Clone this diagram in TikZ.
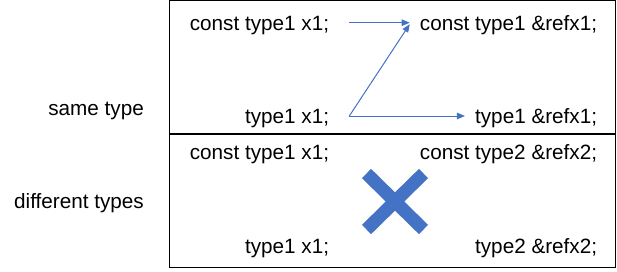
\documentclass[tikz,border=0pt]{standalone}
\usepackage{fontspec}
\setmainfont{Liberation Sans}
\usetikzlibrary{arrows.meta,calc}
\definecolor{arrowblue}{HTML}{4472C4}

\begin{document}
\begin{tikzpicture}[x=1pt,y=-1pt,
  lbl/.style={anchor=base east, inner sep=0pt, font=\fontsize{20.7}{24}\selectfont},
  frame/.style={draw=black, line width=1.3pt},
  link/.style={draw=arrowblue, line width=1pt, -{Triangle[length=8pt,width=6.5pt]}},
  cross/.style={draw=arrowblue, line width=13pt, line cap=butt},
]
\useasboundingbox (0,0) rectangle (617,271);

% outer frame split into two panels
\draw[frame] (169.5,0.7) rectangle (615.5,267.5);
\draw[frame] (169.5,134) -- (615.5,134);

% row labels
\node[lbl] (same) at (144,115) {same type};
\node[lbl] (diff) at (144,208) {different types};

% upper panel: same type
\node[lbl] (sc1) at (329.3,30.7) {const type1 x1;};
\node[lbl] (sr1) at (597.3,30.7) {const type1 \&refx1;};
\node[lbl] (sv1) at (329.3,123.3) {type1 x1;};
\node[lbl] (sr2) at (597.3,123.3) {type1 \&refx1;};

% arrows leave the sources 20pt right of the text and stop short of the targets
\draw[link] ($(sc1.base east)+(20,-8)$) -- ($(sr1.base west)+(-10,-8)$);
\draw[link] ($(sv1.base east)+(20,-7.3)$) -- ($(sr1.base west)+(-10,-6.5)$);
\draw[link] ($(sv1.base east)+(20,-7.3)$) -- ($(sr2.base west)+(-10,-7.3)$);

% lower panel: different types
\node[lbl] (dc1) at (329.3,159.3) {const type1 x1;};
\node[lbl] (dr1) at (597.3,159.3) {const type2 \&refx2;};
\node[lbl] (dv1) at (329.3,253) {type1 x1;};
\node[lbl] (dr2) at (597.3,253) {type2 \&refx2;};

% the cross
\coordinate (xc) at (395,201.5);
\draw[cross] ($(xc)+(-28.5,-28)$) -- ($(xc)+(28.5,28)$);
\draw[cross] ($(xc)+(-28.5,28)$) -- ($(xc)+(28.5,-28)$);
\end{tikzpicture}
\end{document}
